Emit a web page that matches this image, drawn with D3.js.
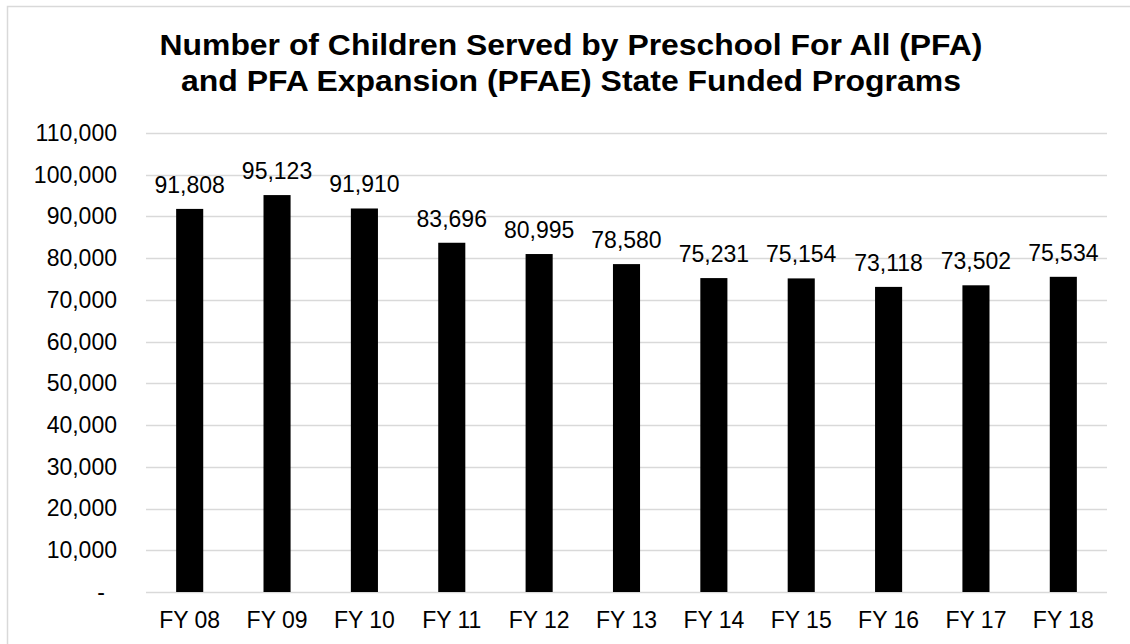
<!DOCTYPE html>
<html>
<head>
<meta charset="utf-8">
<script src="https://cdn.jsdelivr.net/npm/d3@7"></script>
<style>
  html, body { margin: 0; padding: 0; background: #fff; }
  svg { display: block; }
  text { font-family: "Liberation Sans", Arial, sans-serif; fill: #000; }
</style>
</head>
<body>
<svg id="chart" width="1130" height="644"></svg>
<script>
const categories = ["FY 08", "FY 09", "FY 10", "FY 11", "FY 12", "FY 13", "FY 14", "FY 15", "FY 16", "FY 17", "FY 18"];
const values = [91808, 95123, 91910, 83696, 80995, 78580, 75231, 75154, 73118, 73502, 75534];
const yTicks = [0, 10000, 20000, 30000, 40000, 50000, 60000, 70000, 80000, 90000, 100000, 110000];
const yTickLabels = ["-", "10,000", "20,000", "30,000", "40,000", "50,000", "60,000", "70,000", "80,000", "90,000", "100,000", "110,000"];
const titleLines = ["Number of Children Served by Preschool For All (PFA)", "and PFA Expansion (PFAE) State Funded Programs"];

const svg = d3.select("#chart");
const W = 1130, H = 644;
const plot = { left: 146, right: 1107, top: 133, bottom: 592 };
const FS = 23;

// outer chart border
svg.append("rect")
  .attr("x", 7.5).attr("y", 6.5)
  .attr("width", W).attr("height", H)
  .attr("fill", "none").attr("stroke", "#d9d9d9").attr("stroke-width", 1.5);

const x = d3.scaleBand().domain(categories).range([plot.left, plot.right]).paddingInner(0.69).paddingOuter(0.345);
const y = d3.scaleLinear().domain([0, 110000]).range([plot.bottom, plot.top]);

// gridlines
svg.append("g").selectAll("line").data(yTicks).join("line")
  .attr("x1", plot.left).attr("x2", plot.right)
  .attr("y1", d => Math.round(y(d)) + 0.5).attr("y2", d => Math.round(y(d)) + 0.5)
  .attr("stroke", "#d9d9d9").attr("stroke-width", 1.5);

// y axis labels
const yAxis = d3.axisLeft(y).tickValues(yTicks).tickSize(0).tickPadding(0)
  .tickFormat((d, i) => yTickLabels[i]);
const gy = svg.append("g").attr("transform", `translate(117,0)`).call(yAxis);
gy.select(".domain").remove();
gy.selectAll("text").attr("font-size", FS).attr("font-family", "Liberation Sans, Arial, sans-serif").attr("fill", "#000")
  .attr("dx", (d, i) => yTicks[i] === 0 ? -12 : 0);

// bars
svg.append("g").selectAll("rect").data(values).join("rect")
  .attr("x", (d, i) => x(categories[i]))
  .attr("width", x.bandwidth())
  .attr("y", d => y(d))
  .attr("height", d => y(0) - y(d))
  .attr("fill", "#000");

// data labels
svg.append("g").selectAll("text").data(values).join("text")
  .attr("x", (d, i) => x(categories[i]) + x.bandwidth() / 2)
  .attr("y", d => y(d) - 16)
  .attr("text-anchor", "middle")
  .attr("font-size", FS)
  .text(d => d3.format(",")(d));

// x axis labels
const xAxis = d3.axisBottom(x).tickSize(0).tickPadding(0);
const gx = svg.append("g").attr("transform", `translate(0,${plot.bottom})`).call(xAxis);
gx.select(".domain").remove();
gx.selectAll("text").attr("font-size", FS).attr("font-family", "Liberation Sans, Arial, sans-serif").attr("fill", "#000")
  .attr("dy", null).attr("y", 36);

// title
const titleWidths = [823, 780];
svg.append("g").selectAll("text").data(titleLines).join("text")
  .attr("x", 571).attr("y", (d, i) => 55 + i * 36)
  .attr("text-anchor", "middle")
  .attr("font-size", 29).attr("font-weight", "bold")
  .attr("textLength", (d, i) => titleWidths[i])
  .attr("lengthAdjust", "spacingAndGlyphs")
  .text(d => d);
</script>
</body>
</html>
